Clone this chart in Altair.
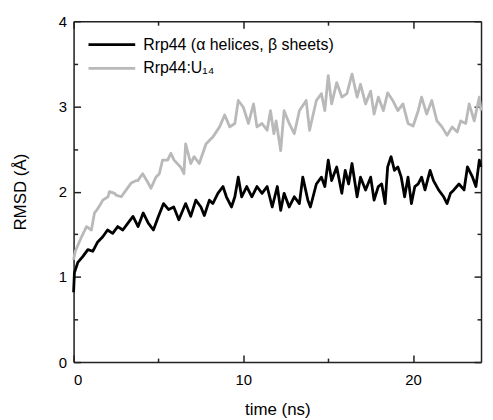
import altair as alt
import pandas as pd

# ---- data ----
time_black = [0.0, 0.05, 0.25, 0.55, 0.84, 1.13, 1.42, 1.72, 2.0, 2.3, 2.6, 2.9, 3.2, 3.5, 3.8,
              4.1, 4.4, 4.7, 5.0, 5.3, 5.6, 5.9, 6.2, 6.6, 6.9, 7.2, 7.5, 7.7, 8.0, 8.2, 8.5,
              8.8, 9.0, 9.3, 9.5, 9.7, 9.9, 10.2, 10.5, 10.8, 11.1, 11.4, 11.7, 12.0, 12.2,
              12.4, 12.7, 13.0, 13.3, 13.5, 13.8, 13.95, 14.3, 14.6, 14.8, 15.0, 15.2, 15.5,
              15.8, 16.0, 16.2, 16.4, 16.7, 16.9, 17.2, 17.5, 17.7, 17.95, 18.15, 18.35, 18.5,
              18.7, 18.9, 19.1, 19.3, 19.5, 19.7, 19.9, 20.1, 20.3, 20.5, 20.7, 21.0, 21.2,
              21.5, 21.8, 22.0, 22.2, 22.4, 22.7, 23.0, 23.2, 23.5, 23.7, 23.9, 24.0]
rmsd_black = [0.82, 1.05, 1.17, 1.24, 1.32, 1.30, 1.41, 1.47, 1.55, 1.51, 1.59, 1.55, 1.63, 1.71,
              1.59, 1.75, 1.63, 1.55, 1.71, 1.86, 1.79, 1.82, 1.67, 1.86, 1.71, 1.90, 1.82, 1.72,
              1.90, 1.86, 1.98, 2.06, 1.94, 1.82, 1.94, 2.17, 1.94, 2.06, 1.94, 2.06, 1.98, 2.06,
              1.82, 2.06, 1.78, 1.98, 1.82, 1.94, 1.86, 2.17, 1.90, 1.82, 2.09, 2.17, 2.06, 2.37,
              2.13, 2.29, 1.98, 2.25, 2.09, 2.33, 1.94, 2.17, 2.02, 2.17, 1.90, 2.06, 2.09, 1.86,
              2.29, 2.41, 2.25, 2.29, 2.17, 1.94, 2.17, 1.86, 2.06, 2.09, 2.17, 2.02, 2.25, 2.13,
              2.02, 1.94, 1.86, 1.98, 2.02, 2.09, 2.02, 2.29, 2.17, 2.06, 2.37, 2.29]

time_gray = [0.0, 0.1, 0.47, 0.76, 1.05, 1.23, 1.35, 1.64, 1.72, 2.03, 2.11, 2.42, 2.5, 2.81, 3.1,
             3.39, 3.7, 3.78, 4.07, 4.37, 4.56, 4.85, 5.05, 5.24, 5.54, 5.73, 5.92, 6.3, 6.5,
             6.6, 6.9, 7.1, 7.4, 7.8, 8.2, 8.6, 8.9, 9.2, 9.5, 9.7, 10.0, 10.3, 10.6, 10.8,
             11.1, 11.4, 11.6, 11.8, 11.93, 12.2, 12.4, 12.7, 13.0, 13.3, 13.7, 13.9, 14.3,
             14.6, 14.8, 15.0, 15.2, 15.5, 15.8, 16.1, 16.4, 16.7, 16.9, 17.2, 17.5, 17.7,
             17.95, 18.25, 18.5, 18.8, 19.1, 19.4, 19.7, 20.0, 20.3, 20.5, 20.8, 21.1, 21.4,
             21.7, 22.0, 22.3, 22.6, 22.8, 23.1, 23.3, 23.6, 23.9, 24.0]
rmsd_gray = [1.20, 1.30, 1.47, 1.59, 1.55, 1.75, 1.78, 1.87, 1.90, 1.94, 2.00, 1.98, 1.96, 1.94,
             2.02, 2.10, 2.13, 2.13, 2.21, 2.11, 2.04, 2.17, 2.21, 2.37, 2.37, 2.45, 2.37, 2.29,
             2.21, 2.56, 2.33, 2.41, 2.33, 2.56, 2.64, 2.76, 2.90, 2.76, 2.80, 3.07, 2.99, 2.80,
             3.03, 2.76, 2.80, 2.72, 2.95, 2.68, 2.83, 2.48, 2.95, 2.80, 2.68, 2.95, 3.07, 2.72,
             3.07, 3.15, 2.95, 3.36, 3.03, 3.28, 3.11, 3.15, 3.38, 3.11, 3.26, 3.03, 3.18, 2.91,
             3.11, 2.95, 3.16, 3.07, 2.95, 3.03, 2.80, 2.77, 2.95, 3.11, 2.91, 3.07, 2.83, 2.76,
             2.66, 2.76, 2.70, 2.83, 2.80, 3.03, 2.83, 3.11, 2.95]

series_names = ["Rrp44 (α helices, β sheets)", "Rrp44:U₁₄"]
series_colors = ["#000000", "#b9b9b9"]

x_domain = [0, 24]
y_domain = [0, 4]
x_labels = [0, 10, 20]
x_ticks = [0, 5, 10, 15, 20]
y_labels = [0, 1, 2, 3, 4]
y_ticks = [0, 0.5, 1, 1.5, 2, 2.5, 3, 3.5, 4]

# ---- table ----
df = pd.concat([
    pd.DataFrame({"t": time_gray, "r": rmsd_gray, "s": series_names[1], "k": 0}),
    pd.DataFrame({"t": time_black, "r": rmsd_black, "s": series_names[0], "k": 1}),
], ignore_index=True)

W, H = 410, 343
FONT = "Liberation Sans"
FRAME = "#222222"

xs = alt.Scale(domain=x_domain, nice=False, zero=False)
ys = alt.Scale(domain=y_domain, nice=False)

base = alt.Chart(df)

lines = base.mark_line(strokeWidth=2.8, strokeJoin="round").encode(
    x=alt.X("t:Q", scale=xs, axis=alt.Axis(
        orient="bottom", values=x_labels, ticks=False, domain=True, domainColor=FRAME,
        domainWidth=1.5, grid=False,
        labelPadding=11, labelFont=FONT, labelFontSize=15, labelColor="black",
        title="time (ns)", titleFont=FONT, titleFontSize=17, titleFontWeight="normal",
        titleColor="black", titlePadding=14)),
    y=alt.Y("r:Q", scale=ys, axis=alt.Axis(
        orient="left", values=y_labels, ticks=False, domain=True, domainColor=FRAME,
        domainWidth=1.5, grid=False,
        labelPadding=7, labelFont=FONT, labelFontSize=15, labelColor="black",
        title="RMSD (Å)", titleFont=FONT, titleFontSize=17, titleFontWeight="normal",
        titleColor="black", titlePadding=29)),
    color=alt.Color("s:N", scale=alt.Scale(domain=series_names, range=series_colors),
                    legend=alt.Legend(orient="none", legendX=27, legendY=12, title=None,
                                      symbolType="M-2.35,0H2.35", symbolSize=400,
                                      symbolStrokeWidth=2.8, symbolFillColor="transparent",
                                      labelFont=FONT,
                                      labelFontSize=16, labelColor="black",
                                      labelOffset=20, rowPadding=4, padding=0,
                                      labelLimit=400)),
    detail="s:N",
    order=alt.Order("k:Q"),
)

x_tick_size = {"condition": {"test": "datum.value % 10 === 0", "value": 7}, "value": 4}
y_tick_size = {"condition": {"test": "datum.value % 1 === 0", "value": 7}, "value": 4}


def tick_layer(x_orient, y_orient, with_domain):
    return base.mark_line(opacity=0).encode(
        x=alt.X("t:Q", scale=xs, axis=alt.Axis(
            orient=x_orient, offset=-H, values=x_ticks, labels=False, domain=with_domain,
            domainColor=FRAME, domainWidth=1.5,
            grid=False, title=None, tickSize=x_tick_size, tickColor=FRAME, tickWidth=1.5)),
        y=alt.Y("r:Q", scale=ys, axis=alt.Axis(
            orient=y_orient, offset=-W, values=y_ticks, labels=False, domain=with_domain,
            domainColor=FRAME, domainWidth=1.5,
            grid=False, title=None, tickSize=y_tick_size, tickColor=FRAME, tickWidth=1.5)),
        detail="s:N",
    )


chart = alt.layer(
    lines,
    tick_layer("top", "right", False),
    tick_layer("bottom", "left", True),
).resolve_axis(x="independent", y="independent").properties(
    width=W, height=H,
    autosize=alt.AutoSizeParams(type="none"),
    padding={"left": 66, "top": 12, "right": 4, "bottom": 58},
).configure_view(strokeOpacity=0).configure(background="white")

chart.save("out.html", embed_options={"renderer": "svg", "actions": False})
